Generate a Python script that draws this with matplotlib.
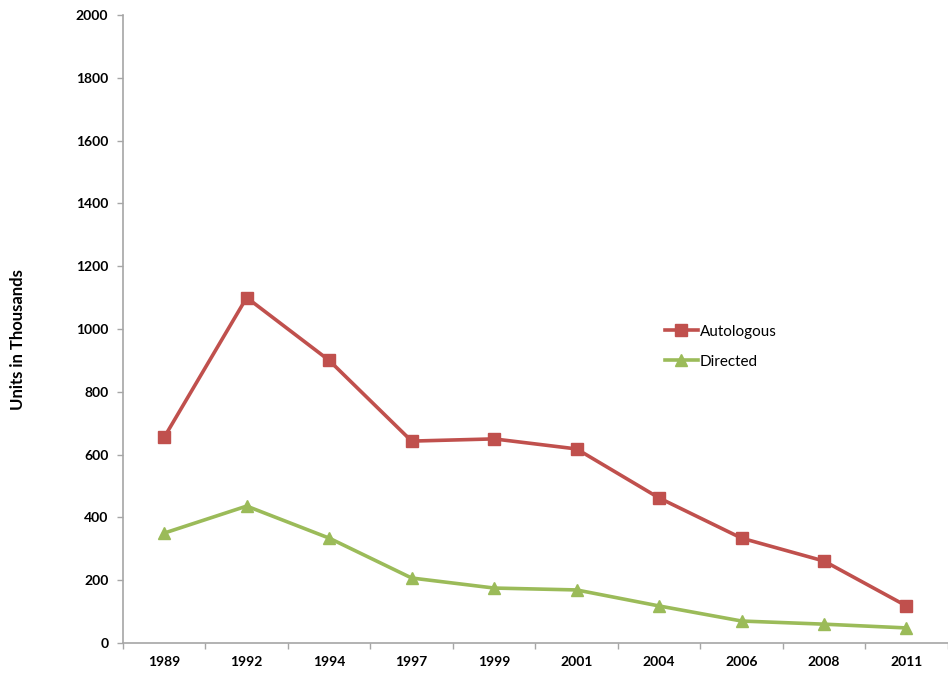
import matplotlib
matplotlib.use('Agg')
import matplotlib.pyplot as plt
from matplotlib.ticker import FixedLocator, NullFormatter

# Data
years = ['1989', '1992', '1994', '1997', '1999', '2001', '2004', '2006', '2008', '2011']
autologous = [655, 1100, 900, 643, 650, 618, 462, 334, 261, 118]
directed = [350, 436, 334, 207, 175, 169, 118, 70, 60, 48]

RED = '#C0504D'
GREEN = '#9BBB59'
AXIS_GRAY = '#A6A6A6'

plt.rcParams['font.family'] = ['Lato', 'DejaVu Sans']

fig = plt.figure(figsize=(9.48, 6.75), dpi=100)
ax = fig.add_axes([0.1297, 0.0474, 0.870, 0.9304])

x = list(range(len(years)))
ax.plot(x, autologous, color=RED, lw=2.6, marker='s', markersize=8,
        label='Autologous')
ax.plot(x, directed, color=GREEN, lw=2.6, marker='^', markersize=9,
        label='Directed')

ax.set_xlim(-0.5, len(years) - 0.5)
ax.set_ylim(0, 2000)
ax.set_yticks(range(0, 2001, 200))
ax.set_xticks(x)
ax.set_xticklabels(years, fontsize=10, fontweight='bold')
ax.tick_params(axis='x', which='major', length=0, pad=9)
ax.xaxis.set_minor_locator(FixedLocator([i - 0.5 for i in range(len(years) + 1)]))
ax.xaxis.set_minor_formatter(NullFormatter())
ax.tick_params(axis='x', which='minor', length=4, color=AXIS_GRAY, width=1)
ax.tick_params(axis='y', length=4, color=AXIS_GRAY, width=1, labelsize=10, pad=6.5)
for lbl in ax.get_yticklabels():
    lbl.set_fontweight('bold')

for side in ['top', 'right']:
    ax.spines[side].set_visible(False)
for side in ['left', 'bottom']:
    ax.spines[side].set_color(AXIS_GRAY)
    ax.spines[side].set_linewidth(1.2)

# y label placed in figure coords so it is not cut off
fig.text(18 / 948, 1 - 340 / 675, 'Units in Thousands', rotation=90,
         ha='center', va='center', fontsize=12, fontweight='bold')

ax.legend(loc='center left', bbox_to_anchor=(0.64, 0.472), frameon=False,
          fontsize=11, handlelength=2.2, handletextpad=0.1, labelspacing=1.05)

fig.savefig('out.png', dpi=100)
